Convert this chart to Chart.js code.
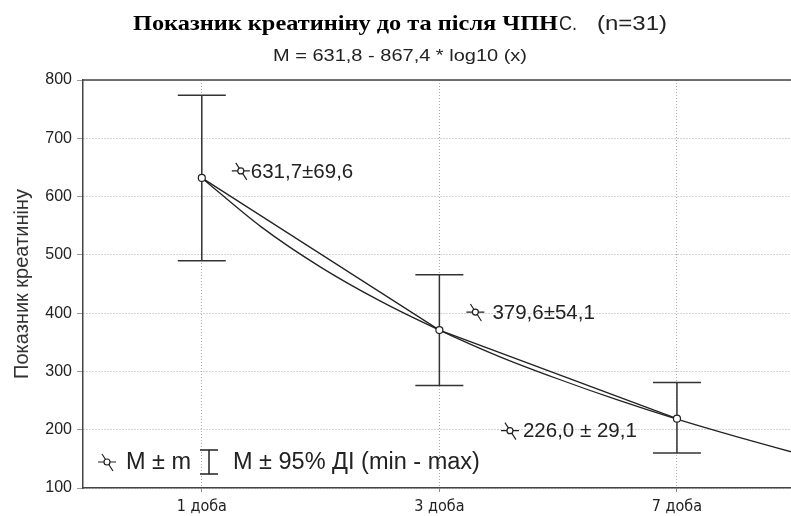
<!DOCTYPE html>
<html>
<head>
<meta charset="utf-8">
<script src="https://cdn.jsdelivr.net/npm/chart.js@4.4.1/dist/chart.umd.min.js"></script>
<style>
  html, body { margin: 0; padding: 0; background: #fff; }
</style>
</head>
<body>
<canvas id="creatinineChart" width="791" height="516"></canvas>
<script>
// data
const dayLabels = ['1 доба', '3 доба', '7 доба'];
const dayIndex = [1, 2, 3];
const meanValues = [632, 371, 219];
const ciUpper = [774, 466, 281];
const ciLower = [490, 276, 160];
const meanLabels = ['631,7±69,6', '379,6±54,1', '226,0 ± 29,1'];
const fitX = [1, 1.25, 1.5, 1.75, 2, 2.25, 2.5, 2.75, 3, 3.25, 3.5];
const fitY = [632, 548, 479, 421, 371, 326, 287, 251, 218, 188, 160];
const yTicks = [100, 200, 300, 400, 500, 600, 700, 800];

const meanPoints = dayIndex.map((d, i) => ({ x: d, y: meanValues[i] }));
const fitPoints = fitX.map((x, i) => ({ x: x, y: fitY[i] }));
const errorBarPoints = [];
dayIndex.forEach((d, i) => {
  errorBarPoints.push({ x: d, y: ciLower[i] }, { x: d, y: ciUpper[i] }, { x: d, y: null });
});

const ink = '#222';

function fitText(ctx, text, x, y, font, width) {
  ctx.save();
  ctx.font = font;
  const w = ctx.measureText(text).width;
  ctx.translate(x, y);
  ctx.scale(width / w, 1);
  ctx.textAlign = 'left';
  ctx.textBaseline = 'alphabetic';
  ctx.fillText(text, 0, 0);
  ctx.restore();
}

function drawMeanIcon(ctx, x, y) {
  ctx.save();
  ctx.strokeStyle = ink;
  ctx.lineWidth = 1.2;
  ctx.beginPath();
  ctx.moveTo(x - 9, y); ctx.lineTo(x + 9, y);
  ctx.moveTo(x - 5, y - 8); ctx.lineTo(x + 6, y + 9);
  ctx.stroke();
  ctx.beginPath();
  ctx.arc(x, y, 3, 0, Math.PI * 2);
  ctx.fillStyle = '#fff';
  ctx.fill();
  ctx.stroke();
  ctx.restore();
}

const decorPlugin = {
  id: 'decor',
  beforeDatasetsDraw(chart) {
    const { ctx, chartArea } = chart;
    ctx.save();
    ctx.strokeStyle = '#444';
    ctx.lineWidth = 1.5;
    ctx.beginPath();
    ctx.moveTo(chartArea.left, chartArea.top);
    ctx.lineTo(chartArea.right, chartArea.top);
    ctx.stroke();
    ctx.restore();
  },
  afterDraw(chart, args, opts) {
    const { ctx } = chart;
    const xs = chart.scales.x, ys = chart.scales.y;
    ctx.save();
    ctx.fillStyle = '#000';
    // title: serif bold part + sans part
    fitText(ctx, 'Показник креатиніну до та після ЧПН', 133, 30, 'bold 22px "Liberation Serif"', 425);
    ctx.fillStyle = '#222';
    fitText(ctx, 'С.', 559, 30, '20px "Liberation Sans"', 18);
    fitText(ctx, '(n=31)', 597, 30, '21px "Liberation Sans"', 70);
    fitText(ctx, 'M = 631,8 - 867,4 * log10 (x)', 273, 61, '17px "Liberation Sans"', 254);

    // value labels next to the means
    ctx.font = '20.5px "Liberation Sans"';
    ctx.textBaseline = 'middle';
    ctx.textAlign = 'left';
    meanLabels.forEach((txt, i) => {
      const off = opts.offsets[i];
      const px = xs.getPixelForValue(dayIndex[i]) + off[0];
      const py = ys.getPixelForValue(meanValues[i]) + off[1];
      drawMeanIcon(ctx, px, py);
      ctx.fillStyle = ink;
      ctx.fillText(txt, px + off[2], py + 1);
    });

    // legend box inside the plot
    const ly = 462;
    drawMeanIcon(ctx, 107, ly);
    ctx.fillStyle = ink;
    ctx.font = '23.5px "Liberation Sans"';
    ctx.fillText('M ± m', 126, ly + 1);
    ctx.strokeStyle = ink;
    ctx.lineWidth = 1.5;
    ctx.beginPath();
    ctx.moveTo(209, ly - 12); ctx.lineTo(209, ly + 12);
    ctx.moveTo(200, ly - 12); ctx.lineTo(218, ly - 12);
    ctx.moveTo(200, ly + 12); ctx.lineTo(218, ly + 12);
    ctx.stroke();
    ctx.fillText('M ± 95% ДI (min - max)', 233, ly + 1);
    ctx.restore();
  }
};

new Chart(document.getElementById('creatinineChart'), {
  type: 'line',
  data: {
    datasets: [
      {
        label: 'M',
        data: meanPoints,
        borderColor: ink,
        borderWidth: 1.3,
        tension: 0,
        pointStyle: 'circle',
        pointRadius: 3.5,
        pointBackgroundColor: '#fff',
        pointBorderColor: ink,
        pointBorderWidth: 1.2
      },
      {
        label: 'fit',
        data: fitPoints,
        borderColor: ink,
        borderWidth: 1.3,
        cubicInterpolationMode: 'monotone',
        pointRadius: 0
      },
      {
        label: 'CI',
        data: errorBarPoints,
        borderColor: '#333',
        borderWidth: 1.5,
        spanGaps: false,
        pointStyle: 'line',
        pointRadius: 24,
        pointBorderColor: '#333',
        pointBorderWidth: 1.5
      }
    ]
  },
  options: {
    responsive: false,
    animation: false,
    layout: { autoPadding: false, padding: { top: 80, left: 0, right: 0, bottom: 0 } },
    plugins: {
      legend: { display: false },
      tooltip: { enabled: false },
      // [icon dx, icon dy, text dx from icon]
      decor: { offsets: [[39, -7, 10], [36, -18, 17], [-167, 12, 13]] }
    },
    scales: {
      x: {
        type: 'linear',
        min: 0.5,
        max: 3.48,
        afterBuildTicks: (axis) => { axis.ticks = dayIndex.map(v => ({ value: v })); },
        afterFit: (scale) => { scale.height = 28; scale.paddingLeft = 0; scale.paddingRight = 0; },
        ticks: {
          callback: (value) => dayLabels[dayIndex.indexOf(value)],
          font: { family: '"Liberation Sans Narrow", "DejaVu Sans Condensed", sans-serif', size: 16 },
          color: ink,
          padding: 5,
          maxRotation: 0
        },
        grid: { color: '#aaa', lineWidth: 1, tickLength: 4, tickColor: '#888' },
        border: { display: true, color: '#444', width: 1.5, dash: [1, 2] }
      },
      y: {
        min: 100,
        max: 800,
        afterBuildTicks: (axis) => { axis.ticks = yTicks.map(v => ({ value: v })); },
        afterFit: (scale) => { scale.width = 83; },
        ticks: {
          font: { family: '"Liberation Sans"', size: 16 },
          color: ink,
          padding: 5
        },
        grid: { color: '#aaa', lineWidth: 1, tickLength: 6, tickColor: '#999' },
        border: { display: true, color: '#444', width: 1.5, dash: [1, 2] },
        title: {
          display: true,
          text: 'Показник креатиніну',
          font: { family: '"Liberation Sans"', size: 20 },
          color: '#333',
          padding: { top: 10, bottom: 0 }
        }
      }
    }
  },
  plugins: [decorPlugin]
});
</script>
</body>
</html>
